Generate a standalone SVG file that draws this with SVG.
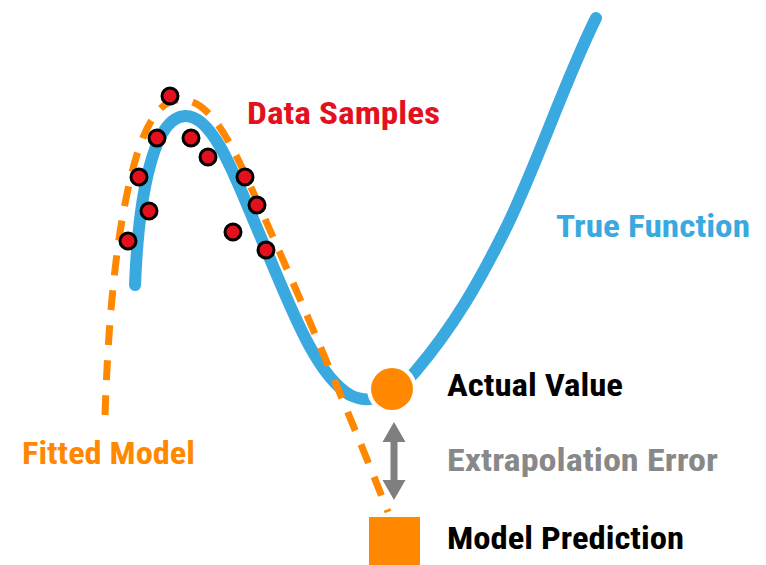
<svg xmlns="http://www.w3.org/2000/svg" width="766" height="565" viewBox="0 0 766 565">
<style>
  .lbl { font-family: "Liberation Sans Narrow", "Roboto Condensed", "Roboto", sans-serif; font-weight: bold; font-size: 32px; }
  .pt { fill: #e3101e; stroke: #000; stroke-width: 3; }
</style>
<rect width="766" height="565" fill="#fff"/>
<g id="connectors">
  <path id="true-function" d="M135,285 C138,210 150,118 185,116 C215,115 238,185 262,240 C290,305 315,375 350,395 C372,406 395,395 415,372 C455,325 480,280 505,230 C535,170 565,80 596,18" fill="none" stroke="#3aa9e0" stroke-width="12" stroke-linecap="round"/>
  <path id="fitted-model" d="M105,415 C108,330 115,220 140,145 C155,105 170,98 185,100 C210,103 230,140 250,185 C290,275 340,390 388,512" fill="none" stroke="#ff8800" stroke-width="7" stroke-dasharray="20 15"/>
  <polygon id="error-arrow" points="394,422 405.5,442 397.5,442 397.5,480 405.5,480 394,500 382.5,480 390.5,480 390.5,442 382.5,442" fill="#7f7f7f"/>
</g>
<g id="data-samples">
  <circle class="pt" cx="170" cy="96" r="8"/>
  <circle class="pt" cx="157" cy="138" r="8"/>
  <circle class="pt" cx="191" cy="138" r="8"/>
  <circle class="pt" cx="208" cy="157" r="8"/>
  <circle class="pt" cx="139" cy="177" r="8"/>
  <circle class="pt" cx="245" cy="177" r="8"/>
  <circle class="pt" cx="149" cy="211" r="8"/>
  <circle class="pt" cx="257" cy="205" r="8"/>
  <circle class="pt" cx="128" cy="241" r="8"/>
  <circle class="pt" cx="233" cy="232" r="8"/>
  <circle class="pt" cx="266" cy="250" r="8"/>
</g>
<g id="actual-value">
  <circle cx="392" cy="389" r="21" fill="#ff8800" stroke="#fff" stroke-width="8"/>
  <circle cx="392" cy="389" r="21" fill="#ff8800"/>
  <text class="lbl" x="447" y="396" fill="#000" textLength="176" lengthAdjust="spacingAndGlyphs">Actual Value</text>
</g>
<g id="model-prediction">
  <rect x="369" y="517" width="51" height="48" fill="#ff8800"/>
  <text class="lbl" x="447" y="549" fill="#000" textLength="237" lengthAdjust="spacingAndGlyphs">Model Prediction</text>
</g>
<g id="labels">
  <text class="lbl" x="247" y="124" fill="#e3101e" textLength="193" lengthAdjust="spacingAndGlyphs">Data Samples</text>
  <text class="lbl" x="556" y="237" fill="#3aa9e0" textLength="194" lengthAdjust="spacingAndGlyphs">True Function</text>
  <text class="lbl" x="22" y="464" fill="#ff8800" textLength="173" lengthAdjust="spacingAndGlyphs">Fitted Model</text>
  <text class="lbl" x="447" y="471" fill="#888888" textLength="271" lengthAdjust="spacingAndGlyphs">Extrapolation Error</text>
</g>
</svg>
